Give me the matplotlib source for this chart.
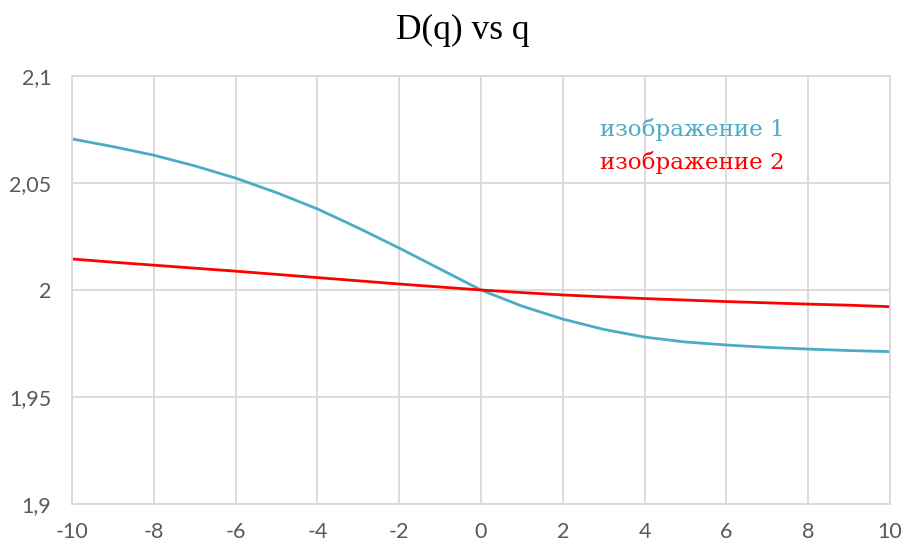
import matplotlib
matplotlib.use("Agg")
import matplotlib.pyplot as plt
from matplotlib.ticker import FuncFormatter, MultipleLocator

q = list(range(-10, 11))
img1 = [2.0706, 2.0670, 2.0630, 2.0580, 2.0523, 2.0455, 2.0379, 2.0290, 2.0196, 2.0098,
        2.0000, 1.9925, 1.9864, 1.9816, 1.9780, 1.9757, 1.9743, 1.9732, 1.9724, 1.9717, 1.9712]
img2 = [2.0145, 2.0130, 2.0116, 2.0102, 2.0088, 2.0073, 2.0058, 2.0043, 2.0028, 2.0014,
        2.0000, 1.9988, 1.9977, 1.9968, 1.9960, 1.9953, 1.9946, 1.9940, 1.9934, 1.9929, 1.9922]
labels = ["изображение 1", "изображение 2"]
title = "D(q) vs q"

blue = "#4BACC6"
red = "#FF0000"
grid = "#D9D9D9"
tick_col = "#595959"

fig = plt.figure(figsize=(9.05, 5.44), dpi=100)
ax = fig.add_axes([72/905, 40/544, 818/905, 428/544])

ax.plot(q, img1, color=blue, lw=2.0, solid_capstyle="round")
ax.plot(q, img2, color=red, lw=2.0, solid_capstyle="round")

ax.set_xlim(-10, 10)
ax.set_ylim(1.9, 2.1)
ax.xaxis.set_major_locator(MultipleLocator(2))
ax.yaxis.set_major_locator(MultipleLocator(0.05))

def fmt(v, pos):
    s = ("%.2f" % v).rstrip("0").rstrip(".")
    return s.replace(".", ",")

ax.yaxis.set_major_formatter(FuncFormatter(fmt))
ax.xaxis.set_major_formatter(FuncFormatter(lambda v, p: "%d" % round(v)))

ax.grid(True, color=grid, lw=1.3)
ax.set_axisbelow(True)
for s in ax.spines.values():
    s.set_color(grid)
    s.set_linewidth(1.3)
ax.tick_params(length=0, labelsize=15.5, labelcolor=tick_col)
ax.tick_params(axis="y", pad=15)
ax.tick_params(axis="x", pad=13)
for lab in ax.get_xticklabels() + ax.get_yticklabels():
    lab.set_fontfamily("Lato")

fig.text(463/905, 1 - 30/544, title, ha="center", va="center",
         fontsize=25.5, family="Liberation Serif", color="#000000")

ax.text(0.645, 0.874, labels[0], transform=ax.transAxes, color=blue,
        fontsize=16.6, family="DejaVu Serif", ha="left", va="center")
ax.text(0.645, 0.797, labels[1], transform=ax.transAxes, color=red,
        fontsize=16.6, family="DejaVu Serif", ha="left", va="center")

fig.savefig("out.png", dpi=100)
